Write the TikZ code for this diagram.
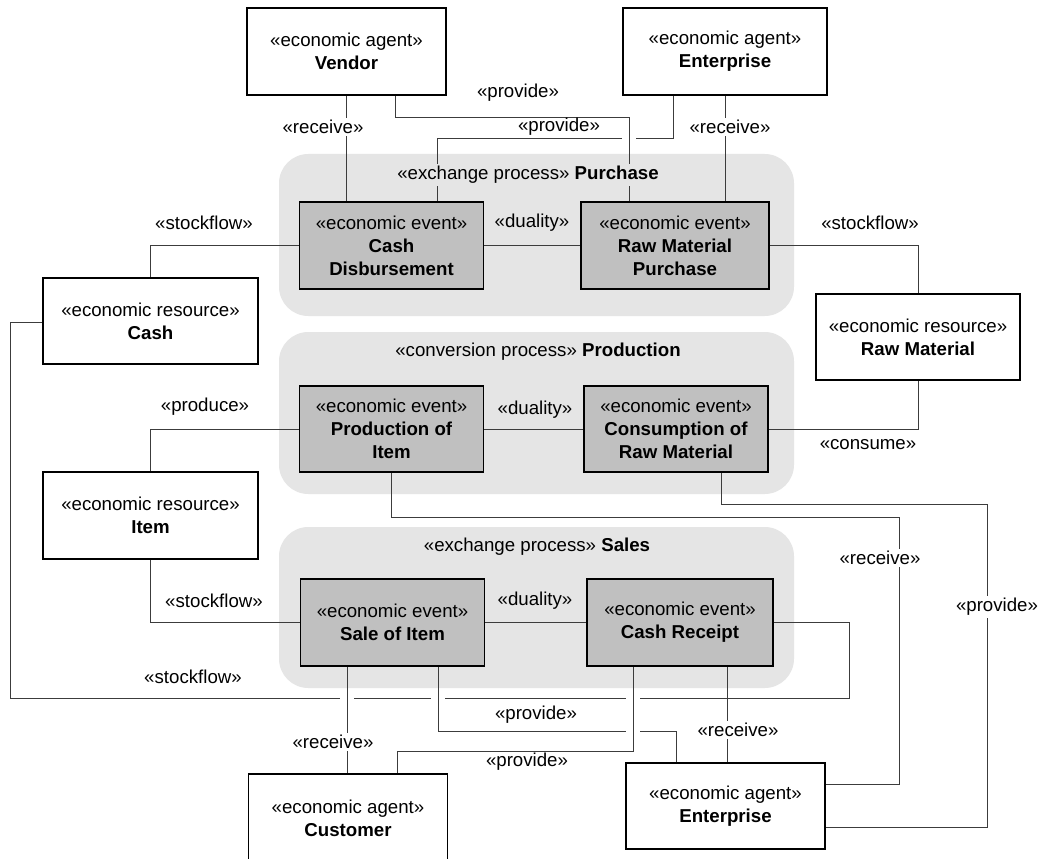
\documentclass[tikz,border=0pt]{standalone}
\usepackage{fontspec}
\setmainfont{Liberation Sans}
\usetikzlibrary{calc}
\definecolor{grpfill}{RGB}{229,229,229}
\definecolor{evtfill}{RGB}{192,192,192}
\definecolor{linegray}{RGB}{60,60,60}
\newcommand{\reafont}{\fontsize{14}{17.25}\selectfont}
\pgfdeclarelayer{background}
\pgfdeclarelayer{front}
\pgfsetlayers{background,main,front}

\begin{document}
\begin{tikzpicture}[
  x=0.75pt, y=-0.75pt,
  box/.style={draw=black, line width=1.1pt, fill=white, align=center,
              inner sep=2pt, font=\reafont},
  agent/.style={box, minimum width=199*0.75pt, minimum height=87*0.75pt},
  resource/.style={box, minimum width=215*0.75pt, minimum height=86*0.75pt},
  event/.style={box, fill=evtfill, minimum width=184*0.75pt, minimum height=87*0.75pt},
  group/.style={fill=grpfill, rounded corners=22pt, inner sep=0pt,
                minimum width=515*0.75pt, minimum height=162*0.75pt},
  title/.style={fill=grpfill, inner sep=1.5pt, font=\reafont},
  lbl/.style={inner sep=1.5pt, font=\reafont},
  lblw/.style={lbl, fill=white},
  conn/.style={draw=linegray, line width=0.75pt},
  knock/.style={draw=white, line width=10pt}
]
\useasboundingbox (0,0) rectangle (1041,859);
% process groups
\begin{pgfonlayer}{background}
\fill[white] (0,0) rectangle (1041,859);
\node[group] (purchase) at (536.5,235) {};
\node[group] (production) at (536.5,413) {};
\node[group, minimum height=161*0.75pt] (sales) at (536.5,607.5) {};
\end{pgfonlayer}

\begin{pgfonlayer}{front}
% agents
\node[agent] (vendor) at (346.5,51.5) {«economic agent»\\\textbf{Vendor}};
\node[agent, minimum width=204*0.75pt] (enttop) at (725,51.5) {«economic agent»\\\textbf{Enterprise}};
\node[agent, minimum height=88*0.75pt] (customer) at (348,818) {«economic agent»\\\textbf{Customer}};
\node[agent, minimum height=86*0.75pt] (entbot) at (725.5,806) {«economic agent»\\\textbf{Enterprise}};
% resources
\node[resource] (cash) at (150.5,321) {«economic resource»\\\textbf{Cash}};
\node[resource, minimum width=204*0.75pt] (rawmat) at (918,337) {«economic resource»\\\textbf{Raw Material}};
\node[resource, minimum height=87*0.75pt] (item) at (150.5,515.5) {«economic resource»\\\textbf{Item}};
% events
\node[event] (cd) at (391.5,245.5) {«economic event»\\\textbf{Cash}\\\textbf{Disbursement}};
\node[event, minimum width=188*0.75pt] (rmp) at (675,245.5) {«economic event»\\\textbf{Raw Material}\\\textbf{Purchase}};
\node[event, minimum height=86*0.75pt] (poi) at (391.5,429) {«economic event»\\\textbf{Production of}\\\textbf{Item}};
\node[event, minimum height=86*0.75pt] (cons) at (676,429) {«economic event»\\\textbf{Consumption of}\\\textbf{Raw Material}};
\node[event] (soi) at (392.5,622.5) {«economic event»\\\textbf{Sale of Item}};
\node[event, minimum width=186*0.75pt] (crec) at (680,622.5) {«economic event»\\\textbf{Cash Receipt}};
% process titles
\node[title] (tpurchase) at (528,175) {«exchange process» \textbf{Purchase}};
\node[title] (tproduction) at (538,352) {«conversion process» \textbf{Production}};
\node[title] (tsales) at (537,547) {«exchange process» \textbf{Sales}};
% connector labels
\node[lblw] (lrcvV) at (323,127) {«receive»};
\node[lbl] (lprvV) at (518,93) {«provide»};
\node[lbl] (lprvE) at (559,127) {«provide»};
\node[lblw] (lrcvE) at (730,127) {«receive»};
\node[lbl] (lsfcash) at (204,223) {«stockflow»};
\node[lbl] (ldual1) at (532,223) {«duality»};
\node[lbl] (lsfraw) at (870,223) {«stockflow»};
\node[lbl] (lproduce) at (205,407) {«produce»};
\node[lbl] (ldual2) at (535,410) {«duality»};
\node[lbl] (lconsume) at (868,445) {«consume»};
\node[lblw] (lrcvP) at (880,558) {«receive»};
\node[lblw] (lprvC) at (997,607) {«provide»};
\node[lbl] (lsfitem) at (214,601) {«stockflow»};
\node[lbl] (ldual3) at (535,601) {«duality»};
\node[lbl] (lsfcash2) at (193,677) {«stockflow»};
\node[lbl] (lprvS) at (536,715) {«provide»};
\node[lblw] (lrcvR) at (738,730) {«receive»};
\node[lblw] (lrcvS) at (333,742) {«receive»};
\node[lbl] (lprvR) at (527,762) {«provide»};
\end{pgfonlayer}

% purchase connectors
\draw[conn] (vendor.south) -- (vendor.south |- cd.north);
\draw[conn] (enttop.south) -- (enttop.south |- rmp.north);
\draw[conn] ($(enttop.south)+(-52,0)$) -- ++(0,43) -| ($(cd.north)+(45.5,0)$);
\draw[knock] ($(rmp.north)+(-46,-72)$) -- ++(0,16);
\draw[conn] ($(vendor.south)+(48.5,0)$) -- ++(0,22) -| ($(rmp.north)+(-46,0)$);
\draw[conn] (cd.west) -| (cash.north);
\draw[conn] (cd.east) -- (rmp.west);
\draw[conn] (rmp.east) -| (rawmat.north);
% production connectors
\draw[conn] (poi.west) -| (item.north);
\draw[conn] (poi.east) -- (cons.west);
\draw[conn] (cons.east) -| (rawmat.south);
\draw[conn] (poi.south) -- ++(0,45) -| ($(entbot.east)+(74,-22)$) -- ($(entbot.east)+(0,-22)$);
\draw[conn] ($(cons.south)+(45,0)$) -- ++(0,32) -| ($(entbot.east)+(162,21)$) -- ($(entbot.east)+(0,21)$);
% sales connectors
\draw[conn] (item.south) |- (soi.west);
\draw[conn] (soi.east) -- (crec.west);
\draw[conn] ($(cash.west)+(0,1)$) -- ++(-32,0) |- ($(crec.east)+(76,75.5)$) |- (crec.east);
\draw[conn] ($(crec.south)+(47,0)$) -- ($(entbot.north)+(1.5,0)$);
\draw[knock] ($(soi.south)+(45.5,24)$) -- ++(0,16);
\draw[conn] ($(soi.south)+(45.5,0)$) -- ++(0,64.5) -| ($(entbot.north)+(-49.5,0)$);
\draw[knock] ($(crec.south)+(-47,24)$) -- ++(0,49);
\draw[knock] ($(soi.south)+(-45.5,24)$) -- ++(0,16);
\draw[conn] ($(crec.south)+(-47,0)$) -- ++(0,84.5) -| ($(customer.north)+(49,0)$);
\draw[conn] ($(soi.south)+(-45.5,0)$) -- ($(customer.north)+(-1,0)$);
\end{tikzpicture}
\end{document}
